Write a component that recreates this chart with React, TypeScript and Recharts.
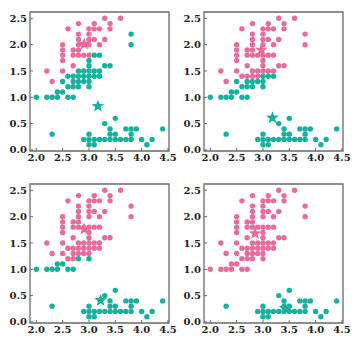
import React from 'react';
import { ScatterChart, Scatter, XAxis, YAxis, ReferenceArea } from 'recharts';

// Petal width levels (y) and the sepal widths (x) observed at each level
const petalWidthLevels = [2.5, 2.4, 2.3, 2.2, 2.1, 2.0, 1.9, 1.8, 1.7, 1.6, 1.5, 1.4, 1.3, 1.2, 1.1, 1.0, 0.6, 0.5, 0.4, 0.3, 0.2, 0.1];
const sepalWidthsAtLevel = [
  [3.3, 3.6],
  [2.8, 3.1, 3.4],
  [2.6, 3.0, 3.1, 3.2, 3.4],
  [2.8, 3.0, 3.8],
  [2.8, 3.0, 3.1, 3.3],
  [2.5, 2.8, 3.0, 3.2, 3.8],
  [2.5, 2.7, 2.8],
  [2.5, 2.7, 2.8, 2.9, 3.0, 3.1, 3.2],
  [2.5, 3.0],
  [2.7, 3.0, 3.3, 3.4],
  [2.2, 2.5, 2.8, 2.9, 3.0, 3.1, 3.2],
  [2.6, 2.7, 2.8, 2.9, 3.0, 3.1, 3.2],
  [2.3, 2.5, 2.7, 2.8, 2.9, 3.0],
  [2.6, 2.7, 2.8, 3.0],
  [2.4, 2.5],
  [2.0, 2.2, 2.3, 2.4, 2.6, 2.7],
  [3.5],
  [3.3],
  [3.4, 3.7, 3.8, 3.9, 4.4],
  [2.3, 3.0, 3.4, 3.5, 3.8],
  [2.9, 3.0, 3.1, 3.2, 3.3, 3.4, 3.5, 3.6, 3.7, 3.8, 4.0, 4.2],
  [3.0, 3.1, 4.1],
];

// Cluster labels per panel (P = pink cluster, T = teal cluster), one string per level
const labelsPanel1 = ['PP', 'PPP', 'PPPPP', 'PPT', 'PPPP', 'PPPPT', 'PPP', 'PPPPPTT', 'PT', 'PTTT', 'PPTTTTT', 'TTTTTTT', 'PTTTTT', 'TTTT', 'TT', 'TTTTTT', 'T', 'T', 'TTTTT', 'TTTTT', 'TTTTTTTTTTTT', 'TTT'];
const labelsPanel2 = ['PP', 'PPP', 'PPPPP', 'PPP', 'PPPP', 'PPPPP', 'PPP', 'PPPPPPP', 'PP', 'PPPP', 'PPPPPPP', 'PPPPTTT', 'PTTTTT', 'TTTT', 'TT', 'TTTTTT', 'T', 'T', 'TTTTT', 'TTTTT', 'TTTTTTTTTTTT', 'TTT'];
const labelsPanel3 = ['PP', 'PPP', 'PPPPP', 'PPP', 'PPPP', 'PPPPP', 'PPP', 'PPPPPPP', 'PP', 'PPPP', 'PPPPPPP', 'PPPPPPP', 'PPPPPP', 'PPTT', 'TT', 'TTTTTT', 'T', 'T', 'TTTTT', 'TTTTT', 'TTTTTTTTTTTT', 'TTT'];
const labelsPanel4 = ['PP', 'PPP', 'PPPPP', 'PPP', 'PPPP', 'PPPPP', 'PPP', 'PPPPPPP', 'PP', 'PPPP', 'PPPPPPP', 'PPPPPPP', 'PPPPPP', 'PPPP', 'PP', 'PPPPPP', 'T', 'T', 'TTTTT', 'TTTTT', 'TTTTTTTTTTTT', 'TTT'];

// Centroids per panel [sepal width, petal width]
const pinkCentroids = [[2.91, 2.01], [2.97, 1.9], [2.91, 1.76], [2.85, 1.68]];
const tealCentroids = [[3.17, 0.83], [3.18, 0.61], [3.22, 0.41], [3.42, 0.26]];

const xTicks = [2.0, 2.5, 3.0, 3.5, 4.0, 4.5];
const yTicks = [0.0, 0.5, 1.0, 1.5, 2.0, 2.5];

const PINK = '#e96b9d';
const TEAL = '#14b29a';
const FRAME = '#6b6b6b';

const tickStyle = { fontFamily: 'DejaVu Serif', fontWeight: 'bold', fontSize: 10, fill: '#1e1e1e' };

function makeDot(color: string) {
  return (props: any) => {
    const { cx, cy } = props;
    if (cx == null || cy == null) return <g />;
    return <circle cx={cx} cy={cy} r={2.7} fill={color} />;
  };
}

function makeStar(color: string) {
  return (props: any) => {
    const { cx, cy } = props;
    if (cx == null || cy == null) return <g />;
    const outer = 6.6;
    const inner = 2.8;
    const pts: string[] = [];
    for (let i = 0; i < 10; i++) {
      const r = i % 2 === 0 ? outer : inner;
      const a = -Math.PI / 2 + (i * Math.PI) / 5;
      pts.push(`${cx + r * Math.cos(a)},${cy + r * Math.sin(a)}`);
    }
    return <polygon points={pts.join(' ')} fill={color} />;
  };
}

const pinkDot = makeDot(PINK);
const tealDot = makeDot(TEAL);
const pinkStar = makeStar(PINK);
const tealStar = makeStar(TEAL);

function Panel({ left, top, labels, idx }: { left: number; top: number; labels: string[]; idx: number }) {
  const pinkPts: { x: number; y: number }[] = [];
  const tealPts: { x: number; y: number }[] = [];
  petalWidthLevels.forEach((y, i) => {
    sepalWidthsAtLevel[i].forEach((x, j) => {
      if (labels[i][j] === 'P') pinkPts.push({ x, y });
      else tealPts.push({ x, y });
    });
  });
  const pc = [{ x: pinkCentroids[idx][0], y: pinkCentroids[idx][1] }];
  const tc = [{ x: tealCentroids[idx][0], y: tealCentroids[idx][1] }];
  return (
    <div style={{ position: 'absolute', left, top }}>
      <ScatterChart width={178} height={169} margin={{ top: 12, right: 9, bottom: 0, left: 0 }}>
        <XAxis
          type="number"
          dataKey="x"
          domain={[1.88, 4.52]}
          allowDataOverflow
          ticks={xTicks}
          tickFormatter={(v: number) => v.toFixed(1)}
          height={18}
          axisLine={false}
          tickLine={{ stroke: FRAME, strokeWidth: 1 }}
          tickSize={-3}
          tickMargin={6}
          tick={tickStyle}
          interval={0}
        />
        <YAxis
          type="number"
          dataKey="y"
          domain={[-0.02, 2.62]}
          allowDataOverflow
          ticks={yTicks}
          tickFormatter={(v: number) => v.toFixed(1)}
          width={30}
          axisLine={false}
          tickLine={{ stroke: FRAME, strokeWidth: 1 }}
          tickSize={-3}
          tickMargin={6}
          tick={tickStyle}
          interval={0}
        />
        <ReferenceArea x1={1.88} x2={4.52} y1={-0.02} y2={2.62} fill="none" fillOpacity={0} stroke={FRAME} strokeWidth={1.3} strokeOpacity={1} ifOverflow="visible" />
        <Scatter data={pinkPts} shape={pinkDot} isAnimationActive={false} />
        <Scatter data={tealPts} shape={tealDot} isAnimationActive={false} />
        <Scatter data={pc} shape={pinkStar} isAnimationActive={false} />
        <Scatter data={tc} shape={tealStar} isAnimationActive={false} />
      </ScatterChart>
    </div>
  );
}

export default function App() {
  return (
    <div style={{ position: 'absolute', left: 0, top: 0, width: 357, height: 341, background: '#fff' }}>
      <Panel left={0} top={0} labels={labelsPanel1} idx={0} />
      <Panel left={174} top={0} labels={labelsPanel2} idx={1} />
      <Panel left={0} top={172} labels={labelsPanel3} idx={2} />
      <Panel left={174} top={172} labels={labelsPanel4} idx={3} />
    </div>
  );
}
